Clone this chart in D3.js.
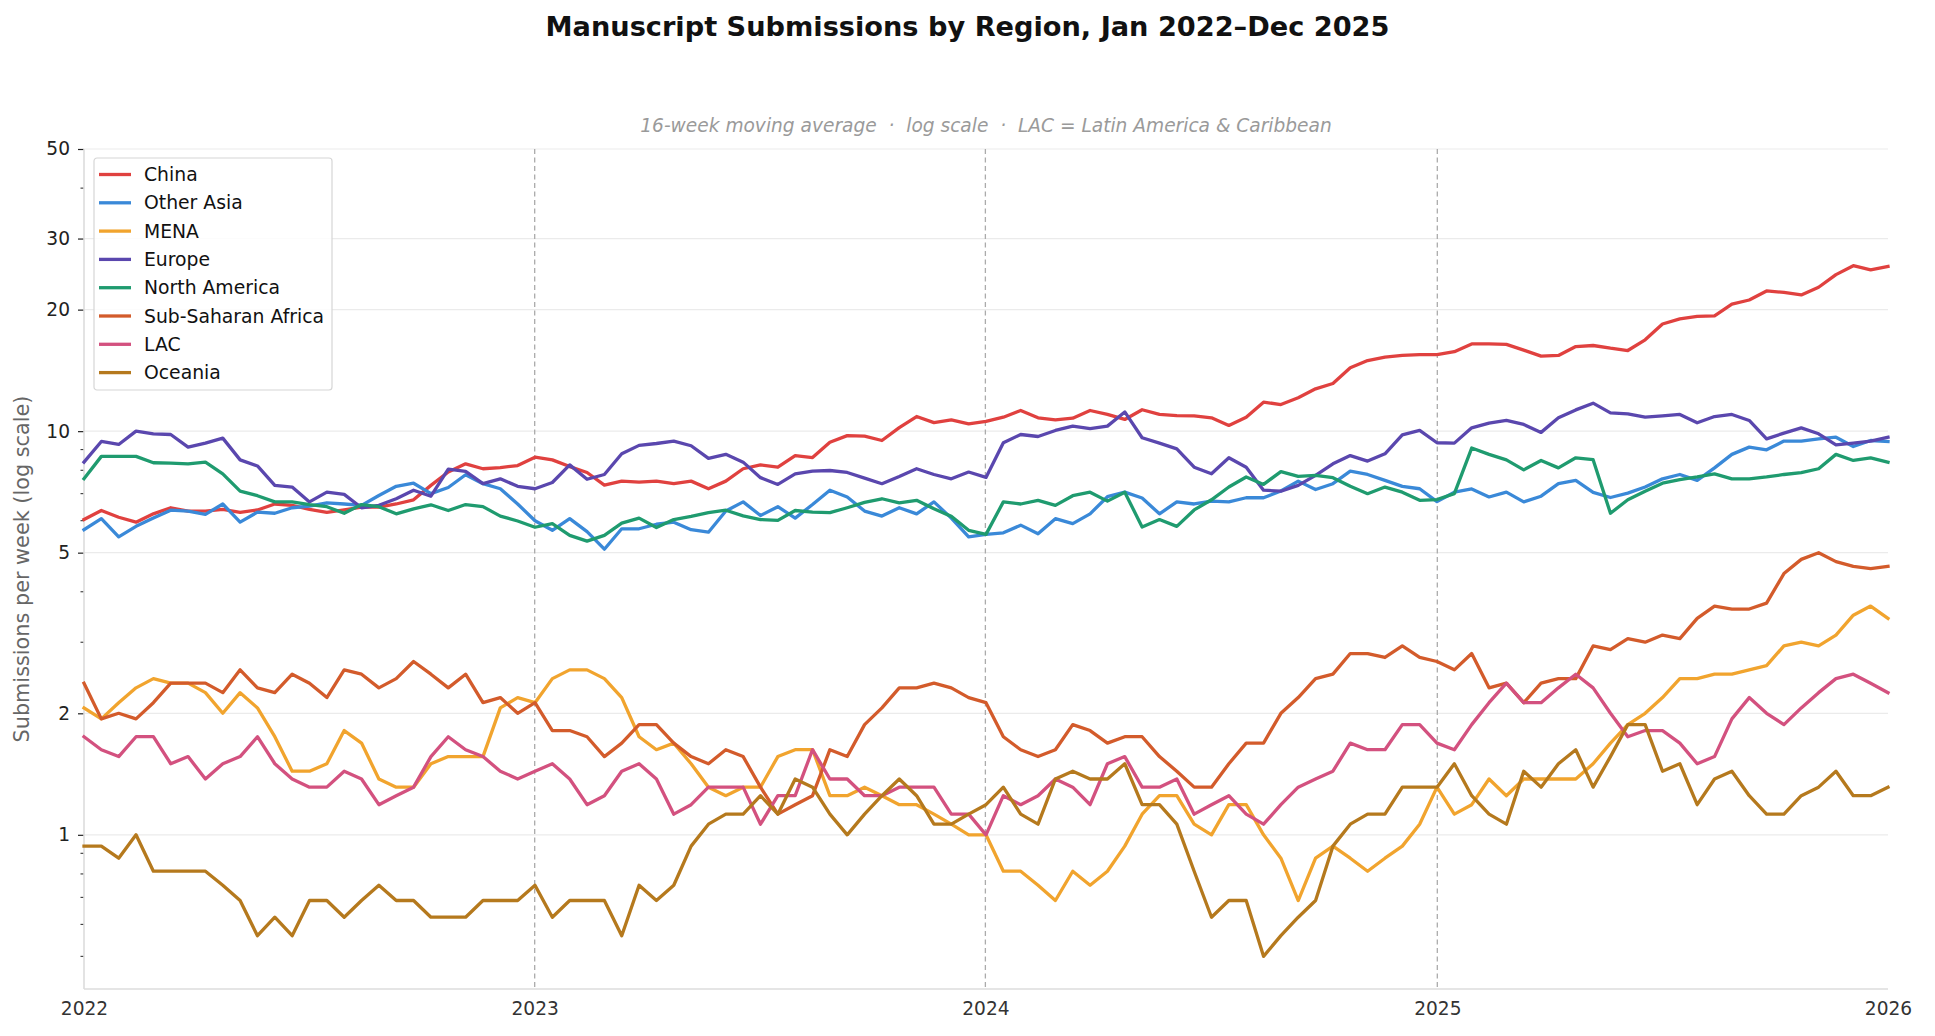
<!DOCTYPE html>
<meta charset="utf-8">

<!-- Load d3.js -->
<script src="https://d3js.org/d3.v7.min.js"></script>

<style>
  body { margin: 0; background: #ffffff; }
  svg { font-family: "DejaVu Sans", sans-serif; }
</style>

<!-- Create a div where the graph will take place -->
<div id="my_dataviz"></div>

<script>

// regions, in legend order
var regions = ["China", "Other Asia", "MENA", "Europe", "North America", "Sub-Saharan Africa", "LAC", "Oceania"]

// 16-week moving average, submissions per week, read every second week (Jan 2022 -> Dec 2025)
var china = [6.04, 6.36, 6.12, 5.95, 6.24, 6.46, 6.34, 6.34, 6.4, 6.29, 6.38, 6.6, 6.55, 6.4, 6.29, 6.38, 6.48, 6.48, 6.6, 6.76, 7.34, 7.92, 8.3, 8.07, 8.12, 8.22, 8.62,
  8.49, 8.17, 7.9, 7.35, 7.52, 7.48, 7.52, 7.41, 7.52, 7.2, 7.52, 8.07, 8.25, 8.14, 8.7, 8.6, 9.39, 9.75, 9.72, 9.48, 10.2, 10.87, 10.5, 10.66, 10.43, 10.57,
  10.83, 11.25, 10.79, 10.67, 10.77, 11.25, 11.0, 10.69, 11.3, 11.0, 10.93, 10.91, 10.79, 10.33, 10.83, 11.8, 11.64, 12.1, 12.73, 13.12, 14.35, 14.96, 15.25, 15.4, 15.48, 15.48,
  15.73, 16.45, 16.45, 16.4, 15.87, 15.34, 15.4, 16.2, 16.3, 16.05, 15.84, 16.84, 18.43, 18.98, 19.25, 19.3, 20.65, 21.13, 22.25, 22.07, 21.75, 22.72, 24.42, 25.7, 25.1, 25.6]
var otherAsia = [5.7, 6.07, 5.47, 5.81, 6.09, 6.37, 6.34, 6.22, 6.6, 5.95, 6.3, 6.26, 6.46, 6.52, 6.64, 6.6, 6.55, 6.93, 7.3, 7.43, 7.0, 7.25, 7.8, 7.41, 7.2, 6.6, 6.0,
  5.68, 6.07, 5.64, 5.1, 5.73, 5.73, 5.88, 5.95, 5.7, 5.62, 6.34, 6.68, 6.18, 6.5, 6.09, 6.58, 7.14, 6.87, 6.34, 6.16, 6.46, 6.24, 6.68, 6.09, 5.47, 5.55,
  5.6, 5.85, 5.57, 6.07, 5.9, 6.24, 6.88, 7.06, 6.83, 6.24, 6.68, 6.6, 6.71, 6.68, 6.84, 6.84, 7.11, 7.52, 7.17, 7.41, 7.96, 7.81, 7.55, 7.3, 7.2, 6.69,
  7.06, 7.19, 6.87, 7.06, 6.68, 6.9, 7.41, 7.55, 7.05, 6.85, 7.02, 7.27, 7.62, 7.81, 7.55, 8.11, 8.76, 9.13, 8.99, 9.45, 9.45, 9.57, 9.66, 9.16, 9.48, 9.43]
var mena = [2.0625, 1.9375, 2.125, 2.3125, 2.4375, 2.375, 2.375, 2.25, 2.0, 2.25, 2.0625, 1.75, 1.4375, 1.4375, 1.5, 1.8125, 1.6875, 1.375, 1.3125, 1.3125, 1.5, 1.5625, 1.5625, 1.5625, 2.0625, 2.1875, 2.125,
  2.4375, 2.5625, 2.5625, 2.4375, 2.1875, 1.75, 1.625, 1.6875, 1.5, 1.3125, 1.25, 1.3125, 1.3125, 1.5625, 1.625, 1.625, 1.25, 1.25, 1.3125, 1.25, 1.1875, 1.1875, 1.125, 1.0625, 1.0, 1.0,
  0.8125, 0.8125, 0.75, 0.6875, 0.8125, 0.75, 0.8125, 0.9375, 1.125, 1.25, 1.25, 1.0625, 1.0, 1.1875, 1.1875, 1.0, 0.875, 0.6875, 0.875, 0.9375, 0.875, 0.8125, 0.875, 0.9375, 1.0625, 1.3125,
  1.125, 1.1875, 1.375, 1.25, 1.375, 1.375, 1.375, 1.375, 1.5, 1.6875, 1.875, 2.0, 2.1875, 2.4375, 2.4375, 2.5, 2.5, 2.5625, 2.625, 2.9375, 3.0, 2.9375, 3.125, 3.5, 3.6875, 3.4375]
var europe = [8.38, 9.43, 9.27, 10.0, 9.85, 9.81, 9.13, 9.34, 9.61, 8.49, 8.2, 7.34, 7.27, 6.68, 7.06, 6.97, 6.46, 6.55, 6.8, 7.14, 6.9, 8.05, 7.95, 7.41, 7.62, 7.3, 7.2,
  7.46, 8.25, 7.6, 7.81, 8.79, 9.22, 9.32, 9.45, 9.2, 8.56, 8.76, 8.38, 7.67, 7.38, 7.84, 7.96, 7.99, 7.9, 7.65, 7.41, 7.72, 8.07, 7.81, 7.62, 7.92, 7.68,
  9.36, 9.81, 9.7, 10.04, 10.29, 10.14, 10.29, 11.16, 9.63, 9.34, 9.04, 8.14, 7.84, 8.59, 8.14, 7.14, 7.1, 7.34, 7.77, 8.3, 8.7, 8.43, 8.79, 9.79, 10.04, 9.36,
  9.34, 10.19, 10.47, 10.63, 10.39, 9.93, 10.79, 11.29, 11.73, 11.1, 11.04, 10.83, 10.91, 11.0, 10.49, 10.87, 11.0, 10.63, 9.57, 9.89, 10.19, 9.85, 9.25, 9.34, 9.45, 9.66]
var northAmerica = [7.62, 8.66, 8.66, 8.66, 8.35, 8.33, 8.3, 8.38, 7.84, 7.1, 6.92, 6.68, 6.68, 6.58, 6.5, 6.26, 6.58, 6.5, 6.24, 6.42, 6.57, 6.36, 6.58, 6.5, 6.16, 5.99, 5.78,
  5.9, 5.52, 5.34, 5.52, 5.92, 6.09, 5.77, 6.04, 6.15, 6.28, 6.37, 6.17, 6.04, 6.01, 6.36, 6.3, 6.28, 6.46, 6.66, 6.8, 6.64, 6.74, 6.42, 6.15, 5.68, 5.55,
  6.68, 6.6, 6.74, 6.55, 6.92, 7.06, 6.71, 7.06, 5.79, 6.04, 5.81, 6.38, 6.76, 7.27, 7.7, 7.38, 7.94, 7.73, 7.77, 7.67, 7.3, 7.0, 7.27, 7.06, 6.74, 6.77,
  7.0, 9.08, 8.76, 8.49, 8.02, 8.46, 8.11, 8.59, 8.5, 6.26, 6.76, 7.1, 7.43, 7.58, 7.7, 7.84, 7.62, 7.62, 7.7, 7.81, 7.89, 8.07, 8.76, 8.46, 8.59, 8.38]
var subSaharan = [2.375, 1.9375, 2.0, 1.9375, 2.125, 2.375, 2.375, 2.375, 2.25, 2.5625, 2.3125, 2.25, 2.5, 2.375, 2.1875, 2.5625, 2.5, 2.3125, 2.4375, 2.6875, 2.5, 2.3125, 2.5, 2.125, 2.1875, 2.0, 2.125,
  1.8125, 1.8125, 1.75, 1.5625, 1.6875, 1.875, 1.875, 1.6875, 1.5625, 1.5, 1.625, 1.5625, 1.3125, 1.125, 1.1875, 1.25, 1.625, 1.5625, 1.875, 2.0625, 2.3125, 2.3125, 2.375, 2.3125, 2.1875, 2.125,
  1.75, 1.625, 1.5625, 1.625, 1.875, 1.8125, 1.6875, 1.75, 1.75, 1.5625, 1.4375, 1.3125, 1.3125, 1.5, 1.6875, 1.6875, 2.0, 2.1875, 2.4375, 2.5, 2.8125, 2.8125, 2.75, 2.9375, 2.75, 2.6875,
  2.5625, 2.8125, 2.3125, 2.375, 2.125, 2.375, 2.4375, 2.4375, 2.9375, 2.875, 3.0625, 3.0, 3.125, 3.0625, 3.4375, 3.6875, 3.625, 3.625, 3.75, 4.4375, 4.8125, 5.0, 4.75, 4.625, 4.5625, 4.625]
var lac = [1.75, 1.625, 1.5625, 1.75, 1.75, 1.5, 1.5625, 1.375, 1.5, 1.5625, 1.75, 1.5, 1.375, 1.3125, 1.3125, 1.4375, 1.375, 1.1875, 1.25, 1.3125, 1.5625, 1.75, 1.625, 1.5625, 1.4375, 1.375, 1.4375,
  1.5, 1.375, 1.1875, 1.25, 1.4375, 1.5, 1.375, 1.125, 1.1875, 1.3125, 1.3125, 1.3125, 1.0625, 1.25, 1.25, 1.625, 1.375, 1.375, 1.25, 1.25, 1.3125, 1.3125, 1.3125, 1.125, 1.125, 1.0,
  1.25, 1.1875, 1.25, 1.375, 1.3125, 1.1875, 1.5, 1.5625, 1.3125, 1.3125, 1.375, 1.125, 1.1875, 1.25, 1.125, 1.0625, 1.1875, 1.3125, 1.375, 1.4375, 1.6875, 1.625, 1.625, 1.875, 1.875, 1.6875,
  1.625, 1.875, 2.125, 2.375, 2.125, 2.125, 2.3125, 2.5, 2.3125, 2.0, 1.75, 1.8125, 1.8125, 1.6875, 1.5, 1.5625, 1.9375, 2.1875, 2.0, 1.875, 2.0625, 2.25, 2.4375, 2.5, 2.375, 2.25]
var oceania = [0.9375, 0.9375, 0.875, 1.0, 0.8125, 0.8125, 0.8125, 0.8125, 0.75, 0.6875, 0.5625, 0.625, 0.5625, 0.6875, 0.6875, 0.625, 0.6875, 0.75, 0.6875, 0.6875, 0.625, 0.625, 0.625, 0.6875, 0.6875, 0.6875, 0.75,
  0.625, 0.6875, 0.6875, 0.6875, 0.5625, 0.75, 0.6875, 0.75, 0.9375, 1.0625, 1.125, 1.125, 1.25, 1.125, 1.375, 1.3125, 1.125, 1.0, 1.125, 1.25, 1.375, 1.25, 1.0625, 1.0625, 1.125, 1.1875,
  1.3125, 1.125, 1.0625, 1.375, 1.4375, 1.375, 1.375, 1.5, 1.1875, 1.1875, 1.0625, 0.8125, 0.625, 0.6875, 0.6875, 0.5, 0.5625, 0.625, 0.6875, 0.9375, 1.0625, 1.125, 1.125, 1.3125, 1.3125, 1.3125,
  1.5, 1.25, 1.125, 1.0625, 1.4375, 1.3125, 1.5, 1.625, 1.3125, 1.5625, 1.875, 1.875, 1.4375, 1.5, 1.1875, 1.375, 1.4375, 1.25, 1.125, 1.125, 1.25, 1.3125, 1.4375, 1.25, 1.25, 1.3125]

// axis ticks
var yMajorTicks = [1, 2, 5, 10, 20, 30, 50]
var yMinorTicks = [0.5, 0.6, 0.7, 0.8, 0.9, 3, 4, 6, 7, 8, 9, 40]
var yearTicks = [2022, 2023, 2024, 2025, 2026]
var yearLines = [2023, 2024, 2025]

var seriesValues = [china, otherAsia, mena, europe, northAmerica, subSaharan, lac, oceania]
var colors = ["#e0413f", "#3a89d8", "#f1a42e", "#5a47ae", "#1f9b6f", "#d35b2b", "#d3517f", "#b5791d"]

// set the dimensions and margins of the graph
var W = 1935, H = 1036
var margin = {top: 149, right: 47, bottom: 47, left: 84},
    width = W - margin.left - margin.right,
    height = H - margin.top - margin.bottom;

var svg = d3.select("#my_dataviz")
  .append("svg")
    .attr("width", W)
    .attr("height", H)

// samples are spread evenly over the four years
var startDate = new Date(2022, 0, 1), endDate = new Date(2026, 0, 1)
var n = china.length
var dates = d3.range(n).map(function(i) { return new Date(+startDate + i * (endDate - startDate) / (n - 1)) })

var dataReady = regions.map(function(name, k) {
  return {
    name: name,
    color: colors[k],
    values: seriesValues[k].map(function(v, i) { return {date: dates[i], value: v} })
  }
})

var x = d3.scaleTime()
  .domain([startDate, endDate])
  .range([0, width])

var y = d3.scaleLog()
  .domain([0.415, 50])
  .range([height, 0])

var g = svg.append("g")
  .attr("transform", "translate(" + margin.left + "," + margin.top + ")")

// horizontal grid at the labelled ticks
g.selectAll("gridLine")
  .data(yMajorTicks)
  .enter()
  .append("line")
    .attr("x1", 0)
    .attr("x2", width)
    .attr("y1", function(d) { return y(d) })
    .attr("y2", function(d) { return y(d) })
    .attr("stroke", "#ebebeb")
    .attr("stroke-width", 1.2)

// year separators
g.selectAll("yearLine")
  .data(yearLines)
  .enter()
  .append("line")
    .attr("x1", function(d) { return x(new Date(d, 0, 1)) })
    .attr("x2", function(d) { return x(new Date(d, 0, 1)) })
    .attr("y1", 0)
    .attr("y2", height)
    .attr("stroke", "#ababab")
    .attr("stroke-width", 1.3)
    .attr("stroke-dasharray", "5,3.5")

// Y axis
var yAxis = d3.axisLeft(y)
  .tickValues(yMajorTicks)
  .tickFormat(d3.format("d"))
  .tickSize(6)
  .tickPadding(8)
var yAxisG = g.append("g").call(yAxis)
yAxisG.select(".domain").remove()
yAxisG.selectAll(".tick line").attr("stroke", "#222").attr("stroke-width", 1.2)
yAxisG.selectAll(".tick text")
  .attr("fill", "#222")
  .style("font-size", "18.6px")
  .style("font-family", "DejaVu Sans")

g.selectAll("minorTick")
  .data(yMinorTicks)
  .enter()
  .append("line")
    .attr("x1", -3.5)
    .attr("x2", 0)
    .attr("y1", function(d) { return y(d) })
    .attr("y2", function(d) { return y(d) })
    .attr("stroke", "#222")
    .attr("stroke-width", 1)

// X axis, labels only
var xAxis = d3.axisBottom(x)
  .tickValues(yearTicks.map(function(d) { return new Date(d, 0, 1) }))
  .tickFormat(d3.timeFormat("%Y"))
  .tickSize(0)
  .tickPadding(13)
var xAxisG = g.append("g")
  .attr("transform", "translate(0," + height + ")")
  .call(xAxis)
xAxisG.select(".domain").remove()
xAxisG.selectAll(".tick text")
  .attr("fill", "#333")
  .style("font-size", "18.6px")
  .style("font-family", "DejaVu Sans")

// spines (left and bottom)
g.append("line")
  .attr("x1", 0).attr("x2", 0).attr("y1", 0).attr("y2", height)
  .attr("stroke", "#dcdcdc").attr("stroke-width", 1.6)
g.append("line")
  .attr("x1", 0).attr("x2", width).attr("y1", height).attr("y2", height)
  .attr("stroke", "#dcdcdc").attr("stroke-width", 1.6)

// Add the lines
var line = d3.line()
  .x(function(d) { return x(d.date) })
  .y(function(d) { return y(d.value) })

g.selectAll("myLines")
  .data(dataReady)
  .enter()
  .append("path")
    .attr("d", function(d) { return line(d.values) })
    .attr("stroke", function(d) { return d.color })
    .attr("stroke-width", 3.3)
    .attr("stroke-linejoin", "round")
    .attr("stroke-linecap", "square")
    .attr("fill", "none")

// legend
var legend = g.append("g").attr("transform", "translate(10,9)")
legend.append("rect")
  .attr("width", 238)
  .attr("height", 232)
  .attr("rx", 3)
  .attr("fill", "#ffffff")
  .attr("fill-opacity", 0.85)
  .attr("stroke", "#d6d6d6")
  .attr("stroke-width", 1.2)

var legendItems = legend.selectAll("legendItem")
  .data(dataReady)
  .enter()
  .append("g")
    .attr("transform", function(d, i) { return "translate(0," + (16.5 + i * 28.3) + ")" })
legendItems.append("line")
  .attr("x1", 5).attr("x2", 37)
  .attr("stroke", function(d) { return d.color })
  .attr("stroke-width", 3.3)
legendItems.append("text")
  .attr("x", 50)
  .attr("dy", "0.35em")
  .text(function(d) { return d.name })
  .attr("fill", "#111")
  .style("font-size", "18.8px")

// title, subtitle, axis label
svg.append("text")
  .attr("x", W / 2)
  .attr("y", 36)
  .attr("text-anchor", "middle")
  .text("Manuscript Submissions by Region, Jan 2022–Dec 2025")
  .style("font-size", "27.2px")
  .style("font-weight", "bold")
  .attr("fill", "#111")

svg.append("text")
  .attr("x", margin.left + width / 2)
  .attr("y", 132)
  .attr("text-anchor", "middle")
  .style("white-space", "pre")
  .text("16-week moving average  ·  log scale  ·  LAC = Latin America & Caribbean")
  .style("font-size", "18.6px")
  .style("font-style", "italic")
  .attr("fill", "#9a9a9a")

svg.append("text")
  .attr("transform", "translate(29," + (margin.top + height / 2) + ") rotate(-90)")
  .attr("text-anchor", "middle")
  .text("Submissions per week (log scale)")
  .style("font-size", "20.8px")
  .attr("fill", "#666")

</script>
